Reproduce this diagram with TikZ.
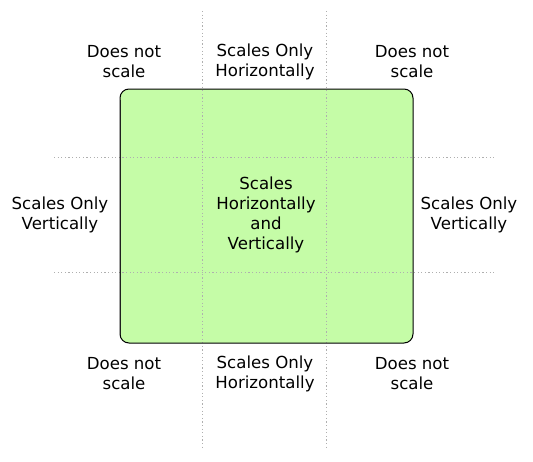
\documentclass[tikz,border=0pt]{standalone}
\usepackage{fontspec}
\setmainfont{DejaVu Sans}
\definecolor{boxgreen}{RGB}{197,252,167}
\definecolor{guide}{RGB}{175,175,175}
\begin{document}
\begin{tikzpicture}[x=1pt,y=-1pt,
  lbl/.style={align=center,font=\fontsize{16.6}{20}\selectfont,inner sep=0pt},
  guideline/.style={draw=guide,line width=0.8pt,dash pattern=on 1.2pt off 2.4pt}]
\useasboundingbox (0,0) rectangle (533,461);
% main box
\coordinate (bl) at (120,89);
\coordinate (tr) at (413,343);
\fill[boxgreen,rounded corners=9pt] (bl) rectangle (tr);
% guides
\coordinate (v1t) at (202,11);
\coordinate (v1b) at (202,447);
\coordinate (v2t) at (326,11);
\coordinate (v2b) at (326,447);
\coordinate (h1l) at (54,157);
\coordinate (h1r) at (496,157);
\coordinate (h2l) at (54,272);
\coordinate (h2r) at (496,272);
\draw[guideline] (v1t) -- (v1b);
\draw[guideline] (v2t) -- (v2b);
\draw[guideline] (h1l) -- (h1r);
\draw[guideline] (h2l) -- (h2r);
\draw[gray!70!black,line width=1.6pt] (120.5,100) -- (120.5,335);
\draw[black,line width=1pt,rounded corners=9pt] (bl) rectangle (tr);
% labels
\node[lbl] (tl) at (124,62) {Does not\\scale};
\node[lbl] (tm) at (265,62) {Scales Only\\Horizontally};
\node[lbl] (trl) at (412,62) {Does not\\scale};
\node[lbl] (ml) at (60,215) {Scales Only\\Vertically};
\node[lbl] (mm) at (266,215) {Scales\\Horizontally\\and\\Vertically};
\node[lbl] (mr) at (469,215) {Scales Only\\Vertically};
\node[lbl] (bll) at (124,374) {Does not\\scale};
\node[lbl] (bm) at (265,374) {Scales Only\\Horizontally};
\node[lbl] (brl) at (412,374) {Does not\\scale};
\end{tikzpicture}
\end{document}
